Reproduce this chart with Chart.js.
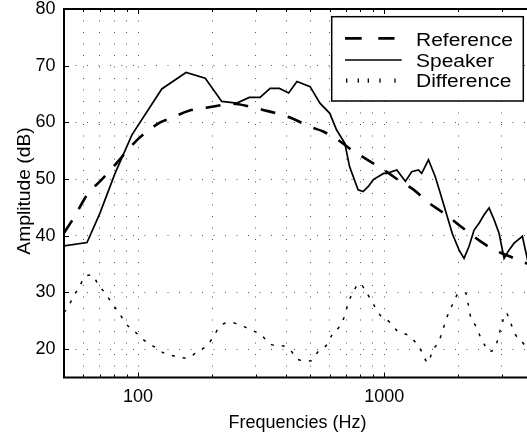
<!DOCTYPE html>
<html><head><meta charset="utf-8">
<style>
html,body{margin:0;padding:0;background:#fff;overflow:hidden;width:527px;height:434px}
#wrap{width:540px;height:434px;position:relative}
canvas{display:block}
</style>
<script src="https://cdn.jsdelivr.net/npm/chart.js@4.4.1/dist/chart.umd.min.js"></script>
</head><body><div id="wrap"><canvas id="c" width="540" height="434"></canvas></div>
<script>
// ---- data ----
const seriesNames = ['Reference', 'Speaker', 'Difference'];

const refFreq = [50, 54.5, 62.7, 70, 80.6, 92.8, 102, 123, 135, 162, 184, 221, 243, 284, 322, 378, 428, 500, 565, 680, 723, 833, 1020, 1163, 1320, 1498, 1782, 2054, 2464, 2797, 3265, 3584, 4000];
const refDb   = [40.5, 43.0, 47.5, 49.6, 52.5, 55.6, 57.4, 60.0, 60.7, 62.1, 62.5, 63.1, 63.3, 62.8, 62.2, 61.4, 60.6, 59.2, 58.4, 56.3, 55.4, 53.7, 51.3, 49.6, 48.1, 46.0, 43.7, 41.6, 39.0, 37.5, 36.3, 35.5, 34.8];

const spkFreq = [50, 62, 70, 80.6, 94.4, 124.8, 156.6, 187.4, 218.7, 251.8, 283, 313, 344, 375, 409, 442, 500, 548, 601, 640, 692, 723, 783, 821, 862, 903, 994, 1024, 1125, 1219, 1293, 1377, 1420, 1513, 1612, 1690, 1803, 1890, 2013, 2110, 2210, 2318, 2429, 2545, 2667, 2797, 2930, 3070, 3217, 3372, 3642, 3825, 4000];
const spkDb   = [38.2, 38.8, 44.0, 51.0, 57.8, 65.9, 68.8, 67.8, 63.7, 63.4, 64.4, 64.4, 66.0, 66.0, 65.2, 67.2, 66.3, 63.4, 61.6, 58.7, 56.3, 52.2, 48.1, 47.8, 48.7, 49.9, 51.0, 51.0, 51.6, 49.6, 51.3, 51.6, 51.0, 53.4, 50.4, 47.5, 43.4, 40.4, 37.5, 36.0, 38.1, 41.0, 42.2, 43.7, 44.9, 42.8, 40.4, 36.0, 37.5, 38.7, 39.9, 35.7, 34.0];

const difFreq = [50, 51.6, 54.5, 57.7, 60.9, 64.9, 69, 73.4, 78.9, 84.2, 89.6, 97, 105.6, 116.5, 127.6, 142.9, 157.8, 174.5, 192.2, 203.9, 215.9, 238.5, 264, 292, 320, 346, 385, 416, 445, 500, 540, 585, 615, 661, 692, 713, 747, 794, 844, 899, 963, 1044, 1125, 1266, 1367, 1432, 1502, 1574, 1665, 1728, 1793, 1906, 2014, 2143, 2197, 2245, 2353, 2464, 2584, 2667, 2797, 2890, 2962, 3029, 3124, 3265, 3419, 3584, 3765, 4000];
const difDb   = [26.5, 27.2, 29.2, 31.0, 32.8, 33.1, 31.3, 29.9, 27.9, 26.2, 24.4, 23.1, 21.6, 20.4, 19.3, 18.7, 18.4, 19.6, 20.8, 22.5, 24.1, 24.7, 24.1, 23.3, 22.3, 20.8, 20.6, 19.8, 18.2, 17.9, 19.6, 20.8, 22.6, 24.1, 26.0, 28.1, 30.0, 31.6, 30.1, 28.1, 26.0, 24.9, 23.3, 22.3, 20.7, 19.3, 17.6, 19.8, 21.3, 23.3, 25.5, 28.1, 29.9, 29.9, 27.8, 25.7, 24.1, 22.1, 20.4, 19.6, 20.0, 21.6, 23.4, 24.9, 26.4, 24.6, 22.5, 21.6, 20.5, 19.8];

const xTicks = [50, 60, 70, 80, 90, 100, 200, 300, 400, 500, 600, 700, 800, 900, 1000, 2000, 3000, 4000];
const xMajor = [100, 1000];
const yTicks = [20, 30, 40, 50, 60, 70, 80];
const xTitle = 'Frequencies (Hz)';
const yTitle = 'Amplitude (dB)';

// ---- chart ----
const FONT = '"Liberation Sans", Arial, Helvetica, sans-serif';
Chart.defaults.font.family = FONT;
Chart.defaults.color = '#000';

const pts = (f, v) => f.map((x, i) => ({x: x, y: v[i]}));

const decor = {
  id: 'decor',
  afterDatasetsDraw(chart) {
    const {ctx, chartArea: a, scales: {x, y}} = chart;
    ctx.save();
    ctx.strokeStyle = '#000';
    ctx.lineWidth = 1;
    xTicks.forEach(v => {
      const px = Math.round(x.getPixelForValue(v)) + 0.5;
      const len = xMajor.includes(v) ? 5 : 3;
      ctx.beginPath();
      ctx.moveTo(px, a.bottom); ctx.lineTo(px, a.bottom - len);
      ctx.moveTo(px, a.top); ctx.lineTo(px, a.top + len);
      ctx.stroke();
    });
    yTicks.forEach(v => {
      const py = Math.round(y.getPixelForValue(v)) + 0.5;
      ctx.beginPath(); ctx.moveTo(a.left, py); ctx.lineTo(a.left + 5, py); ctx.stroke();
    });
    ctx.lineWidth = 2;
    ctx.beginPath();
    ctx.moveTo(a.right + 2, a.top); ctx.lineTo(a.left, a.top); ctx.lineTo(a.left, a.bottom); ctx.lineTo(a.right + 2, a.bottom);
    ctx.stroke();
    ctx.restore();
  },
  afterDraw(chart) {
    const {ctx, chartArea: a} = chart;
    ctx.save();
    // axis titles
    ctx.fillStyle = '#000';
    ctx.font = '18px ' + FONT;
    ctx.textAlign = 'center';
    ctx.textBaseline = 'alphabetic';
    ctx.fillText(xTitle, 297.5, 428.3);
    ctx.save();
    ctx.translate(30, 191);
    ctx.rotate(-Math.PI / 2);
    ctx.scale(1.07, 1);
    ctx.fillText(yTitle, 0, 0);
    ctx.restore();
    // legend
    const bx = 331.7, by = 16.7, bw = 191.6, bh = 84.3;
    ctx.fillStyle = '#fff';
    ctx.fillRect(bx, by, bw, bh);
    ctx.lineWidth = 1.5;
    ctx.strokeStyle = '#000';
    ctx.strokeRect(bx, by, bw, bh);
    const rows = [45.7, 66.5, 87.3];
    // reference sample
    ctx.lineWidth = 2.8;
    ctx.beginPath();
    ctx.moveTo(345, rows[0] - 7.3); ctx.lineTo(361.7, rows[0] - 7.3);
    ctx.moveTo(378.3, rows[0] - 7.3); ctx.lineTo(394.5, rows[0] - 7.3);
    ctx.stroke();
    // speaker sample
    ctx.lineWidth = 1.6;
    ctx.beginPath(); ctx.moveTo(345, rows[1] - 6.5); ctx.lineTo(401.7, rows[1] - 6.5); ctx.stroke();
    // difference sample
    ctx.lineWidth = 1.3;
    [346.7, 358.3, 368.3, 380, 395].forEach(px => {
      ctx.beginPath(); ctx.moveTo(px, rows[2] - 8.8); ctx.lineTo(px, rows[2] - 4.6); ctx.stroke();
    });
    ctx.fillStyle = '#000';
    ctx.textAlign = 'left';
    ctx.font = '17.5px ' + FONT;
    seriesNames.forEach((n, i) => {
      ctx.save();
      ctx.translate(416, rows[i]);
      ctx.scale(1.2, 1);
      ctx.fillText(n, 0, 0);
      ctx.restore();
    });
    ctx.restore();
  }
};

const gridCfg = {color: '#555', lineWidth: 1, drawTicks: false};
const borderCfg = {display: false, dash: [1, 10.5]};

new Chart(document.getElementById('c'), {
  type: 'line',
  data: {
    datasets: [
      {label: seriesNames[0], data: pts(refFreq, refDb), borderColor: '#000', borderWidth: 2.6,
       borderDash: [15, 13], pointRadius: 0, fill: false, cubicInterpolationMode: 'monotone'},
      {label: seriesNames[1], data: pts(spkFreq, spkDb), borderColor: '#000', borderWidth: 1.7,
       pointRadius: 0, fill: false, tension: 0},
      {label: seriesNames[2], data: pts(difFreq, difDb), borderColor: '#000', borderWidth: 1.5,
       borderDash: [3, 8], pointRadius: 0, fill: false, cubicInterpolationMode: 'monotone'}
    ]
  },
  options: {
    responsive: false,
    animation: false,
    devicePixelRatio: 1,
    layout: {padding: {left: 0, top: 9, right: 7.6, bottom: 0}},
    plugins: {legend: {display: false}, tooltip: {enabled: false}},
    scales: {
      x: {
        type: 'logarithmic', min: 50, max: 4000,
        afterBuildTicks(s) { s.ticks = xTicks.map(v => ({value: v})); },
        afterFit(s) { s.height = 434 - 377.5; s.paddingLeft = 0; s.paddingRight = 0; },
        ticks: {autoSkip: false, maxRotation: 0, minRotation: 0, padding: 9, color: '#000',
                font: {size: 18}, callback: (v) => xMajor.includes(v) ? String(v) : ''},
        grid: gridCfg,
        border: borderCfg
      },
      y: {
        min: 15, max: 80,
        afterBuildTicks(s) { s.ticks = yTicks.map(v => ({value: v})); },
        afterFit(s) { s.width = 64; s.paddingTop = 0; s.paddingBottom = 0; },
        ticks: {padding: 8.5, color: '#000', font: {size: 18}},
        grid: gridCfg,
        border: borderCfg
      }
    }
  },
  plugins: [decor]
});
</script>
</body></html>
